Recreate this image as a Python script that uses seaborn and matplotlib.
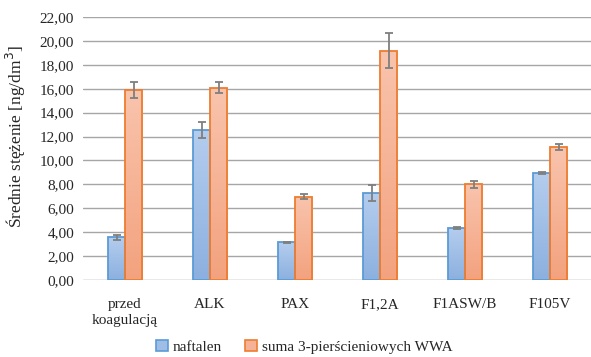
import numpy as np
import pandas as pd
import matplotlib
matplotlib.use("Agg")
import matplotlib.pyplot as plt
import seaborn as sns
from matplotlib.patches import Patch
from matplotlib.container import BarContainer
from matplotlib.colors import LinearSegmentedColormap

categories = ["przed\nkoagulacją", "ALK", "PAX", "F1,2A", "F1ASW/B", "F105V"]
series_names = ["naftalen", "suma 3-pierścieniowych WWA"]
naftalen = [3.55, 12.55, 3.15, 7.25, 4.33, 8.95]
naftalen_err = [0.25, 0.67, 0.05, 0.67, 0.06, 0.10]
suma3 = [15.9, 16.1, 6.95, 19.2, 8.0, 11.1]
suma3_err = [0.70, 0.43, 0.20, 1.43, 0.30, 0.25]
yticks = np.arange(0, 24, 2)

sns.set_theme(style="white")
plt.rcParams["font.family"] = ["Liberation Serif", "DejaVu Serif"]

df = pd.DataFrame({
    "kategoria": categories * 2,
    "seria": [series_names[0]] * len(categories) + [series_names[1]] * len(categories),
    "wartosc": naftalen + suma3,
})

fill_colors = ["#9fbee7", "#f6b296"]
grad_top = ["#b4cdee", "#f9c4ad"]
grad_bottom = ["#8cb0df", "#f3a27e"]
edge_colors = ["#5b9bd5", "#ed7d31"]

fig = plt.figure(figsize=(5.91, 3.57), dpi=100)
ax = fig.add_axes([0.1396, 0.216, 0.863, 0.736])

sns.barplot(data=df, x="kategoria", y="wartosc", hue="seria",
            palette=fill_colors, width=0.4, errorbar=None, ax=ax,
            zorder=3, legend=False)

ax.set_ylim(0, 22)
xlim = ax.get_xlim()

bar_groups = [c for c in ax.containers if isinstance(c, BarContainer)]
errs = [naftalen_err, suma3_err]
vals = [naftalen, suma3]
grad = np.linspace(1, 0, 256).reshape(-1, 1)
for i, cont in enumerate(bar_groups):
    cmap = LinearSegmentedColormap.from_list(f"g{i}", [grad_bottom[i], grad_top[i]])
    xs = []
    for p in cont.patches:
        x0, w, h = p.get_x(), p.get_width(), p.get_height()
        img = ax.imshow(grad, cmap=cmap, extent=[x0, x0 + w, 0, h],
                        aspect="auto", zorder=3, vmin=0, vmax=1)
        img.set_clip_path(p)
        p.set_facecolor("none")
        p.set_edgecolor(edge_colors[i])
        p.set_linewidth(1.3)
        p.set_zorder(3.5)
        xs.append(x0 + w / 2)
    ax.errorbar(xs, vals[i], yerr=errs[i], fmt="none", ecolor="#7f7f7f",
                elinewidth=1.3, capsize=3, capthick=1.3, zorder=4)

ax.set_xlim(xlim)
ax.set_ylim(0, 22)
ax.set_aspect("auto")
ax.set_yticks(yticks)
ax.set_yticklabels([f"{v:.2f}".replace(".", ",") for v in yticks], fontsize=11)
ax.tick_params(axis="x", labelsize=11, length=0, pad=13)
for lbl in ax.get_xticklabels():
    lbl.set_linespacing(1.3)
ax.tick_params(axis="y", length=0, pad=6)
ax.grid(axis="y", color="#a6a6a6", linewidth=1, zorder=0)
ax.set_axisbelow(True)
for s in ax.spines.values():
    s.set_visible(False)
ax.axhline(0, color="#d9d9d9", linewidth=1, zorder=2)
ax.set_xlabel("")
ax.set_ylabel("Średnie stężenie [ng/dm$^3$]", fontsize=12.5)
ax.yaxis.set_label_coords(-0.106, 0.545)

handles = [Patch(facecolor=fill_colors[i], edgecolor=edge_colors[i], linewidth=1.2)
           for i in range(2)]
fig.legend(handles, series_names, loc="lower center", bbox_to_anchor=(0.515, -0.03),
           ncol=2, frameon=False, fontsize=11, handlelength=0.8, handleheight=0.8,
           handletextpad=0.3, columnspacing=1.5)

fig.savefig("out.png", dpi=100)
